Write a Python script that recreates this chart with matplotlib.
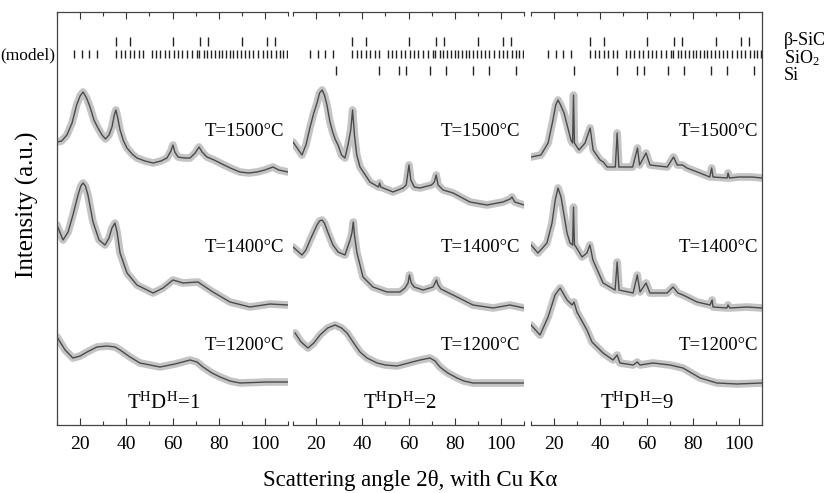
import matplotlib
matplotlib.use("Agg")
import matplotlib.pyplot as plt
from matplotlib.ticker import MultipleLocator

plt.rcParams['font.family'] = ['Liberation Serif', 'DejaVu Serif']
plt.rcParams['mathtext.fontset'] = 'custom'
plt.rcParams['mathtext.rm'] = 'Liberation Serif'
plt.rcParams['mathtext.it'] = 'Liberation Serif:italic'

# ---------------- data (2theta in degrees, intensity in a.u.) ----------------
# Panel T^H D^H = 1
p1_t1500_x = [10, 12, 14.3, 16.5, 18.5, 20, 21.3, 22.8, 24.3, 26, 27.5, 29.5, 31, 32.5, 33.8, 34.8, 35.5, 36.3, 37.3,
              38.8, 40.3, 42.5, 44.6, 48, 51.6, 55, 57.6, 59.3, 60.2, 61, 62.4, 65, 67.6, 69.8, 71.5, 72.8, 74.9,
              78, 80.6, 85, 89.2, 93, 96.6, 100, 103.5, 106, 110]
p1_t1500_y = [283, 284, 290, 302, 320, 329, 333, 327, 318, 305, 298, 290, 286, 290, 298, 310, 315, 307, 295,
              284, 277, 271, 267, 264, 262, 264, 267, 274, 280, 273, 268, 267, 267, 272, 278, 273, 268,
              265, 262, 257, 253, 252, 253, 255, 258, 255, 253]
p1_t1400_x = [10, 12.6, 14.8, 16.9, 19.1, 20.3, 21.3, 22.3, 23.4, 25.6, 28.2, 30.8, 32.5, 33.8, 35.1, 36.0, 37.3,
              40.3, 44.6, 51.6, 55.9, 60.2, 64.5, 71.0, 77.5, 84.9, 93.5, 102.2, 110]
p1_t1400_y = [200, 185, 193, 210, 230, 239, 242, 239, 230, 203, 185, 180, 187, 197, 202, 193, 172,
              152, 140, 132, 137, 145, 142, 143, 133, 123, 118, 121, 120]
p1_t1200_x = [10, 13.5, 16.9, 20.0, 23.0, 27.3, 31.6, 35.1, 37.3, 41.6, 45.9, 54.6, 61.1, 67.6, 70.6, 73.2, 77.1,
              80.6, 84.9, 89.2, 100.9, 110]
p1_t1200_y = [88, 75, 67, 69, 73, 78, 79, 78, 75, 68, 62, 58, 61, 65, 63, 58, 52, 48, 44, 42, 43, 43]

# Panel T^H D^H = 2
p2_t1500_x = [10, 13.9, 15.6, 17.4, 19, 20.4, 21.5, 22.6, 23.6, 24.7, 26, 27.3, 28.4, 29.5, 31, 32.5, 33.8, 35.0,
              35.8, 36.6, 37.6, 39, 43.3, 47.0, 47.5, 48.0, 53.3, 57.6, 59.0, 60.2, 61.0, 62.5, 65.0, 70.0, 71.2,
              72.0, 72.8, 75, 79.3, 86.6, 94.0, 100.9, 104.0, 104.8, 106.0, 110]
p2_t1500_y = [283, 270, 280, 298, 312, 322, 332, 335, 330, 320, 303, 292, 285, 280, 270, 267, 280, 295,
              315, 290, 270, 258, 243, 238, 242, 238, 233, 237, 240, 260, 245, 238, 237, 240, 243,
              250, 240, 235, 232, 223, 220, 223, 226, 228, 223, 220]
p2_t1400_x = [10, 13.9, 15.6, 17.4, 19.0, 20.4, 21.5, 22.6, 23.6, 25.2, 27.3, 29.5, 32.5, 34.7, 35.5, 36.1, 36.6,
              37.7, 40.3, 44.6, 50.7, 56.3, 58.5, 59.8, 60.4, 61.2, 62.5, 66.3, 70.6, 71.5, 72.1, 72.8, 74.0, 79.3,
              87.9, 96.6, 103.9, 110]
p2_t1400_y = [178, 170, 175, 185, 193, 200, 204, 205, 202, 192, 180, 173, 170, 185, 192, 203, 190,
              172, 148, 138, 133, 133, 137, 142, 150, 142, 138, 135, 138, 142, 145, 140, 136, 130,
              120, 117, 120, 117]
p2_t1200_x = [10.9, 13.5, 16.5, 19, 21.7, 25, 28.2, 31, 33.4, 36, 39, 42, 46.4, 50, 55, 60, 65, 69.3, 71.5, 73.6,
              77, 81, 84, 87.9, 98.3, 110]
p2_t1200_y = [92, 83, 77, 82, 90, 97, 100, 97, 92, 83, 73, 67, 62, 60, 59, 62, 65, 67, 64, 58,
              52, 47, 44, 42, 42, 42]

# Panel T^H D^H = 9
p3_t1500_x = [10, 14.3, 17.4, 19.5, 20.7, 21.7, 22.8, 24.3, 27.3, 28.0, 28.4, 28.8, 30.8, 33.4, 35.6, 36.9, 39.9,
              41.3, 43.0, 46.5, 47.3, 48.0, 54, 56.1, 57.0, 59.8, 61.5, 69, 71.7, 73.3, 75.6, 77.5, 83.1, 87.4,
              88.2, 88.8, 94.9, 95.3, 95.9, 100, 105.6, 110]
p3_t1500_y = [268, 270, 282, 305, 320, 325, 320, 312, 285, 282, 330, 282, 275, 282, 297, 275, 265,
              263, 258, 258, 292, 258, 258, 277, 260, 272, 260, 258, 268, 260, 260, 257, 252, 248,
              257, 248, 247, 252, 247, 248, 248, 247]
p3_t1400_x = [10, 13.0, 16.9, 19.1, 20.5, 21.7, 23.0, 25.6, 26.9, 28.0, 28.4, 28.8, 29.5, 32.1, 34.2, 35.5, 36.8,
              41.2, 46.4, 47.3, 48.1, 54.2, 56.0, 57.2, 59.8, 61.5, 68.9, 71.5, 73.6, 75.8, 81.9, 87.5, 88.4,
              88.8, 94.8, 95.3, 96.1, 103.5, 110]
p3_t1400_y = [180, 172, 182, 202, 225, 237, 228, 192, 182, 180, 218, 180, 178, 168, 172, 180, 165,
              142, 135, 163, 135, 132, 150, 133, 142, 132, 132, 138, 132, 130, 123, 120, 125,
              118, 117, 120, 117, 118, 117]
p3_t1200_x = [10, 13.9, 17.4, 20.4, 22.6, 25.6, 27.8, 28.6, 29.9, 34.2, 36.4, 41.2, 45.5, 47.3, 48.5, 54.2, 56.0,
              57.2, 62.8, 70.2, 75.8, 83.2, 90.5, 99.2, 110]
p3_t1200_y = [100, 90, 108, 130, 137, 125, 120, 123, 113, 95, 83, 72, 65, 70, 62, 60, 63,
              60, 62, 60, 57, 47, 42, 41, 42]

# reflection markers (2theta)
sic_peaks = [35.6, 41.4, 60.0, 71.8, 75.5, 89.9, 100.7, 104.4]
si_peaks = [28.4, 47.3, 56.1, 58.9, 69.1, 76.4, 88.0, 94.9, 106.7]
sio2_peaks = [17.4, 20.7, 24.0, 27.2,
              35.5, 37.5, 39.5, 41.4, 43.4, 45.4, 47.4,
              51.0, 52.9, 54.8, 56.8, 58.7, 60.6, 62.5,
              64.0, 66.2, 68.3, 70.5, 71.6, 73.6,
              75.1, 76.7, 78.3, 80.0, 81.6, 83.3, 84.9,
              86.3, 88.0, 89.8, 91.5, 93.3, 95.0,
              97.1, 99.0, 100.9, 102.8, 104.6, 106.5, 108.0, 109.4]

panel_labels = ['1', '2', '9']
temp_labels = ['T=1500°C', 'T=1400°C', 'T=1200°C']
temp_label_y = [293, 177, 79]
phase_labels = ['β-SiC', r'SiO$_{\rm 2}$', 'Si']

panels = [
    [(p1_t1500_x, p1_t1500_y), (p1_t1400_x, p1_t1400_y), (p1_t1200_x, p1_t1200_y)],
    [(p2_t1500_x, p2_t1500_y), (p2_t1400_x, p2_t1400_y), (p2_t1200_x, p2_t1200_y)],
    [(p3_t1500_x, p3_t1500_y), (p3_t1400_x, p3_t1400_y), (p3_t1200_x, p3_t1200_y)],
]

# ---------------- figure ----------------
fig = plt.figure(figsize=(8.30, 4.93), dpi=100)
W, H = 830.0, 493.0
lefts = [57, 293, 531]
pw = 231
ax_bottom, ax_top = 425, 12

band_col = '#c4c4c4'
line_col = '#4a4a4a'

for i, (l, curves) in enumerate(zip(lefts, panels)):
    ax = fig.add_axes([l / W, 1 - ax_bottom / H, pw / W, (ax_bottom - ax_top) / H])
    ax.set_xlim(10, 110)
    ax.set_ylim(0, 413)
    for (xs, ys) in curves:
        ax.plot(xs, ys, color=band_col, lw=5.5, solid_capstyle='round', solid_joinstyle='round', zorder=2)
        ax.plot(xs, ys, color=line_col, lw=1.0, zorder=3)
    for txt, ty in zip(temp_labels, temp_label_y):
        ax.text(108.5, ty, txt, ha='right', va='center', fontsize=13.5, zorder=4)
    ax.text(56, 22, r'T$^{\rm H}$D$^{\rm H}$=' + panel_labels[i], ha='center', va='center', fontsize=15)

    # reflection markers
    ax.vlines(sic_peaks, 379, 388, color='#222222', lw=1.0)
    ax.vlines(sio2_peaks, 367, 375, color='#222222', lw=1.0)
    if i > 0:
        ax.vlines(si_peaks, 350, 359, color='#222222', lw=1.0)

    ax.xaxis.set_major_locator(MultipleLocator(20))
    ax.xaxis.set_minor_locator(MultipleLocator(10))
    ax.tick_params(axis='x', which='both', direction='in', top=True, bottom=True, labelsize=14,
                   pad=8, color='#333333')
    ax.tick_params(axis='x', which='major', length=5, width=0.8)
    ax.tick_params(axis='x', which='minor', length=3, width=0.8)
    ax.set_yticks([])
    for s in ax.spines.values():
        s.set_color('#444444')
        s.set_linewidth(0.9)
    ax.spines['left'].set_visible(i == 0)
    ax.spines['right'].set_visible(i == 2)

fig.text(0.494, 0.026, 'Scattering angle 2θ, with Cu Kα', ha='center', va='center', fontsize=16.5)
fig.text(0.033, 0.584, 'Intensity (a.u.)', ha='center', va='center', rotation=90, fontsize=18)
fig.text(0.067, 0.888, '(model)', ha='right', va='center', fontsize=12.5)
fig.text(0.944, 0.882, '\n'.join(phase_labels), ha='left', va='center', fontsize=13,
         linespacing=0.95)

fig.savefig('out.png', dpi=100)
